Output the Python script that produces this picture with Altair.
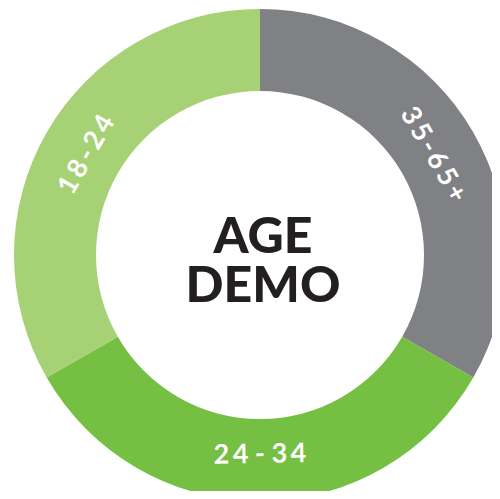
import altair as alt
import pandas as pd

# Data
categories = ["35-65+", "24-34", "18-24"]
# labels with thin spaces to mimic the wide letter spacing of the original
labels = ["3\u20095\u2009-\u20096\u20095\u2009+", "2\u20094 - 3\u20094", "1\u20098\u2009-\u20092\u20094"]
values = [33.3, 33.4, 33.3]
colors = ["#808185", "#75C043", "#A6D175"]
label_angles = [60, 359, 300]
center_lines = ["AGE", "DEMO"]

df = pd.DataFrame({
    "category": categories,
    "label": labels,
    "value": values,
    "order": list(range(len(categories))),
    "rot": label_angles,
})

CX, CY = 252, 247

base = alt.Chart(df).encode(
    theta=alt.Theta("value:Q", stack=True),
    order=alt.Order("order:Q"),
)

arcs = base.mark_arc(radius=246, innerRadius=164, stroke=None).encode(
    x=alt.value(CX),
    y=alt.value(CY),
    color=alt.Color("category:N", scale=alt.Scale(domain=categories, range=colors), legend=None),
)

text = base.mark_text(
    radius=200, font="Lato", fontSize=27, fontWeight="bold", color="white",
    align="center", baseline="middle",
).encode(
    x=alt.value(CX),
    y=alt.value(CY),
    text="label:N",
    angle=alt.Angle("rot:Q", scale=None),
)

center = alt.Chart(pd.DataFrame({"t": [0]})).mark_text(
    font="Lato", fontSize=50, fontWeight=900, color="#231F20",
    align="center", baseline="alphabetic", lineHeight=49,
).encode(
    x=alt.value(CX + 3),
    y=alt.value(CY - 2),
    text=alt.value(center_lines),
)

chart = alt.layer(arcs, text, center).properties(
    width=484, height=483, padding=0,
    autosize=alt.AutoSizeParams(type="none"),
).configure_view(stroke=None)

chart.save("out.html", embed_options={"renderer": "svg", "actions": False})
